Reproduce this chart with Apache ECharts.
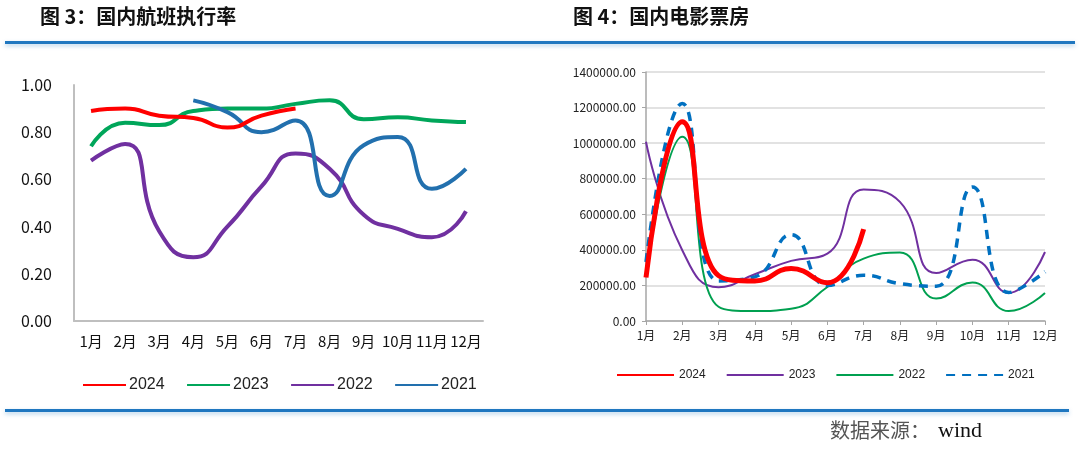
<!DOCTYPE html>
<html>
<head>
<meta charset="utf-8">
<script src="https://cdn.jsdelivr.net/npm/echarts@6/dist/echarts.min.js"></script>
<style>
  html, body { margin: 0; padding: 0; background: #fff; }
  #chart { width: 1080px; height: 472px; }
</style>
</head>
<body>
<div id="chart"></div>
<script>
// 图3 国内航班执行率
const months = ['1月', '2月', '3月', '4月', '5月', '6月', '7月', '8月', '9月', '10月', '11月', '12月']
const flight2024 = [0.89, 0.90, 0.87, 0.86, 0.82, 0.87, 0.90]
const flight2023 = [0.74, 0.84, 0.83, 0.89, 0.90, 0.90, 0.92, 0.935, 0.855, 0.863, 0.85, 0.843]
const flight2022 = [0.68, 0.75, 0.38, 0.27, 0.40, 0.57, 0.71, 0.645, 0.45, 0.39, 0.355, 0.465]
const flight2021 = [null, null, null, 0.935, 0.885, 0.80, 0.85, 0.53, 0.745, 0.78, 0.56, 0.645]

// 图4 国内电影票房
const box2024 = [245000, 1120000, 255000, 225000, 295000, 215000, 516000]
const box2023 = [1008000, 398000, 190000, 263000, 338000, 379000, 740000, 670000, 270000, 345000, 158000, 388000]
const box2022 = [270000, 1036000, 80000, 56000, 69000, 191000, 351000, 385000, 126000, 216000, 56000, 158000]
const box2021 = [332000, 1223000, 225000, 248000, 486000, 200000, 257000, 210000, 195000, 754000, 160000, 276000]

const chart = echarts.init(document.getElementById('chart'))

const labelFont = '"Noto Sans CJK SC", "Liberation Sans", sans-serif'
const gray = '#BFBFBF'

const option = {
    animation: false,
    textStyle: { fontFamily: labelFont },
    graphic: [
        { type: 'text', left: 40, top: 6, style: { text: '图 3：国内航班执行率', font: 'bold 20px "Noto Sans CJK SC"', fill: '#111' } },
        { type: 'text', left: 573, top: 6, style: { text: '图 4：国内电影票房', font: 'bold 20px "Noto Sans CJK SC"', fill: '#111' } },
        {
            type: 'rect', shape: { x: 5, y: 41, width: 1070, height: 3 },
            style: { fill: '#1F77C0', shadowBlur: 4, shadowOffsetY: 2, shadowColor: 'rgba(31,119,192,0.35)' }
        },
        {
            type: 'rect', shape: { x: 5, y: 409, width: 1064, height: 3 },
            style: { fill: '#1F77C0', shadowBlur: 4, shadowOffsetY: 2, shadowColor: 'rgba(31,119,192,0.35)' }
        },
        { type: 'text', left: 830, top: 420, style: { text: '数据来源：', font: '20px "Noto Sans CJK SC"', fill: '#555' } },
        { type: 'text', left: 938, top: 420, style: { text: 'wind', font: '22px "Liberation Serif"', fill: '#111' } }
    ],
    legend: [
        {
            left: 77, top: 372, itemWidth: 43, itemHeight: 5, itemGap: 17,
            itemStyle: { opacity: 0 },
            textStyle: { fontSize: 16, color: '#222', fontFamily: '"Liberation Sans", sans-serif', padding: [0, 0, 0, -2] },
            data: ['2024', '2023', '2022', '2021'].map(n => ({ name: n + ' ' }))
        },
        {
            left: 611, top: 364, itemWidth: 57, itemHeight: 6, itemGap: 20,
            itemStyle: { opacity: 0 },
            textStyle: { fontSize: 12, color: '#222', fontFamily: '"Liberation Sans", sans-serif' },
            data: ['2024', '2023', '2022', '2021']
        }
    ],
    grid: [
        { left: 74, right: 597, top: 85, bottom: 151 },
        { left: 646, right: 35, top: 72, bottom: 151 }
    ],
    xAxis: [
        {
            gridIndex: 0, type: 'category', data: months, boundaryGap: true,
            axisLine: { lineStyle: { color: gray, width: 2 } },
            axisTick: { show: false },
            axisLabel: { fontSize: 15, color: '#111', margin: 13, interval: 0 }
        },
        {
            gridIndex: 1, type: 'category', data: months, boundaryGap: false,
            axisLine: { lineStyle: { color: '#A6A6A6', width: 1.5 } },
            axisTick: { show: true, length: 4, lineStyle: { color: '#A6A6A6' }, interval: 0 },
            axisLabel: { fontSize: 12, color: '#222', margin: 8, interval: 0 }
        }
    ],
    yAxis: [
        {
            gridIndex: 0, type: 'value', min: 0, max: 1, interval: 0.2,
            axisLine: { show: true, lineStyle: { color: gray, width: 2 } },
            axisTick: { show: false },
            splitLine: { show: false },
            axisLabel: { fontSize: 16, color: '#111', margin: 22, formatter: v => v.toFixed(2) }
        },
        {
            gridIndex: 1, type: 'value', min: 0, max: 1400000, interval: 200000,
            axisLine: { show: true, lineStyle: { color: '#A6A6A6', width: 1.5 } },
            axisTick: { show: true, length: 4, lineStyle: { color: '#A6A6A6' } },
            splitLine: { lineStyle: { color: '#D9D9D9', width: 1.5 } },
            axisLabel: { fontSize: 12, color: '#222', margin: 10, formatter: v => v.toFixed(2) }
        }
    ],
    series: [
        { name: '2024 ', type: 'line', xAxisIndex: 0, yAxisIndex: 0, data: flight2024, smooth: 0.55, symbol: 'none', lineStyle: { color: '#FF0000', width: 4 }, itemStyle: { color: '#FF0000' }, z: 5 },
        { name: '2023 ', type: 'line', xAxisIndex: 0, yAxisIndex: 0, data: flight2023, smooth: 0.55, symbol: 'none', lineStyle: { color: '#00A65A', width: 4 }, itemStyle: { color: '#00A65A' } },
        { name: '2022 ', type: 'line', xAxisIndex: 0, yAxisIndex: 0, data: flight2022, smooth: 0.55, symbol: 'none', lineStyle: { color: '#7030A0', width: 4 }, itemStyle: { color: '#7030A0' } },
        { name: '2021 ', type: 'line', xAxisIndex: 0, yAxisIndex: 0, data: flight2021, smooth: 0.55, symbol: 'none', lineStyle: { color: '#2270AE', width: 4 }, itemStyle: { color: '#2270AE' } },

        { name: '2024', type: 'line', xAxisIndex: 1, yAxisIndex: 1, data: box2024, smooth: 0.5, symbol: 'none', lineStyle: { color: '#FF0000', width: 5 }, itemStyle: { color: '#FF0000' }, z: 6 },
        { name: '2023', type: 'line', xAxisIndex: 1, yAxisIndex: 1, data: box2023, smooth: 0.5, symbol: 'none', lineStyle: { color: '#7030A0', width: 2 }, itemStyle: { color: '#7030A0' } },
        { name: '2022', type: 'line', xAxisIndex: 1, yAxisIndex: 1, data: box2022, smooth: 0.5, symbol: 'none', lineStyle: { color: '#00A050', width: 2 }, itemStyle: { color: '#00A050' } },
        { name: '2021', type: 'line', xAxisIndex: 1, yAxisIndex: 1, data: box2021, smooth: 0.5, symbol: 'none', lineStyle: { color: '#0070C0', width: 3.5, type: [9, 7] }, itemStyle: { color: '#0070C0' }, z: 5 }
    ]
}

chart.setOption(option)
window.addEventListener('resize', () => {
    chart.resize()
})
</script>
</body>
</html>
